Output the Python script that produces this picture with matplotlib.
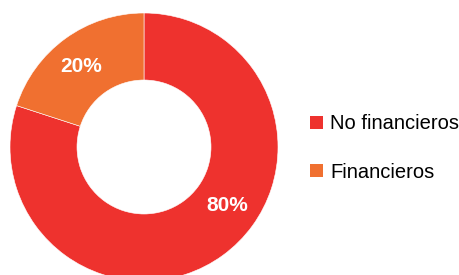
import numpy as np
import matplotlib.pyplot as plt
from matplotlib.patches import Patch

plt.rcParams['font.family'] = ['Liberation Sans', 'DejaVu Sans']

categories = ["No financieros", "Financieros"]
values = [80, 20]
colors = ["#EE322E", "#F07030"]

fig = plt.figure(figsize=(4.6, 2.75), dpi=100)
ax = fig.add_axes([0, 0, 1, 1])

wedges, _ = ax.pie(values, colors=colors, startangle=90, counterclock=False,
                   radius=134, center=(144, 128),
                   wedgeprops=dict(width=67, edgecolor="white", linewidth=0.4))

# percentage labels (excel-ish placement)
label_angles = [-35, 128]
for v, ang in zip(values, label_angles):
    r = 102
    x = 144 + r * np.cos(np.radians(ang))
    y = 128 + r * np.sin(np.radians(ang))
    ax.text(x, y, f"{v}%", color="white", fontsize=15, fontweight="bold",
            ha="center", va="center")

ax.set_xlim(0, 460)
ax.set_ylim(0, 275)
ax.set_aspect("equal")
ax.axis("off")

handles = [Patch(facecolor=c, edgecolor="none") for c in colors]
fig.legend(handles, categories, loc="center left",
           bbox_to_anchor=(310 / 460, 1 - 148 / 275), frameon=False,
           fontsize=14.5, handlelength=0.65, handleheight=0.65,
           handletextpad=0.35, labelspacing=1.45, borderpad=0, borderaxespad=0)

plt.savefig("out.png")
plt.close()
